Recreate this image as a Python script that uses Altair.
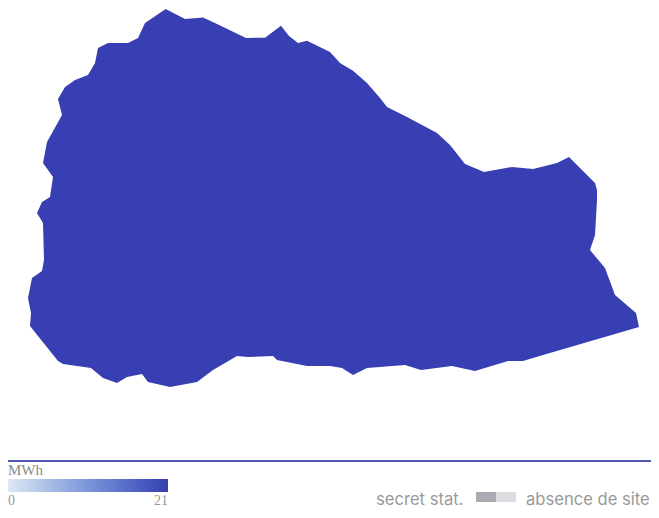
import altair as alt
import pandas as pd

outline_lon = [165.7,185,203,217,246,265,281,289,298,307,330,340,353,367,380,387,407,437,450,465,484,512,533,557,569,595,597,597,595,590,605,615,636,639,543,523,508,475,452,421,405,367,353,342,330,307,277,273,248,237,213,197,170,148,142,127,117,103,91,63,58,30,31,28,32,42,44,43,37,42,50,53,43,47,62,58,65,75,88,95,98,108,128,138,145]
outline_lat = [9,19,17.5,24,38,37.7,25.7,36,43,40.7,52,63,70.7,83,98,107,117,133,145,164,172,167,169,163,157,183,190,200,235,250,268,295,313,327,355,361,361,371,366,370,365,368,375,368,366,366,360,356,357,356,370,382,387,382,374,377,383,378,368,364,361,326,313,298,278,271,260,223,213,202,197,177,163,142,115,99,87,80,75,63,48,43,43,38,23]
region_value = [21]
scale_ends = [0, 21]
labels_left = ["secret stat."]
labels_right = ["absence de site"]
swatch_names = ["secret", "none"]

ring = [[x, y] for x, y in zip(outline_lon, outline_lat)]
ring.append(ring[0])
feature = {"type": "Feature", "properties": {"value": region_value[0]},
           "geometry": {"type": "Polygon", "coordinates": [ring]}}

region = alt.Chart(alt.Data(values=[feature])).mark_geoshape(stroke=None).encode(
    color=alt.Color("properties.value:Q",
        scale=alt.Scale(domain=scale_ends, range=["#e0e8f3", "#373fb2"]),
        legend=alt.Legend(
            orient="none", direction="horizontal", title="MWh",
            legendX=0, legendY=455, gradientLength=160, gradientThickness=13,
            values=scale_ends, titleFont="Liberation Serif", titleFontSize=15,
            titleFontWeight="normal", titleColor="#8a8a8a", titlePadding=1,
            labelFont="Liberation Serif", labelFontSize=14, labelColor="#999999",
            labelOffset=2, tickCount=2))
).project(type="identity", scale=1, translate=[-8, -8])

one = pd.DataFrame({"k": [0]})
rule = alt.Chart(one).mark_rule(color="#5058b4", strokeWidth=2).encode(
    x=alt.value(0), x2=alt.value(643), y=alt.value(453))

swatch_a = alt.Chart(pd.DataFrame({"k": swatch_names[:1]})).mark_rect(color="#aaaab2").encode(
    x=alt.value(468), x2=alt.value(488), y=alt.value(484), y2=alt.value(494))
swatch_b = alt.Chart(pd.DataFrame({"k": swatch_names[1:]})).mark_rect(color="#dcdce0").encode(
    x=alt.value(488), x2=alt.value(508), y=alt.value(484), y2=alt.value(494))

text_left = alt.Chart(pd.DataFrame({"t": labels_left})).mark_text(
    font="Inter", fontSize=16.6, color="#9a9a9a", align="left", baseline="alphabetic"
).encode(text="t:N", x=alt.value(368), y=alt.value(497))
text_right = alt.Chart(pd.DataFrame({"t": labels_right})).mark_text(
    font="Inter", fontSize=16.6, color="#9a9a9a", align="left", baseline="alphabetic"
).encode(text="t:N", x=alt.value(518), y=alt.value(497))

chart = alt.layer(region, rule, swatch_a, swatch_b, text_left, text_right).properties(
    width=643, height=502, padding=0,
    autosize=alt.AutoSizeParams(type="none"),
    background="white"
).configure_view(stroke=None)

chart.save("out.html", embed_options={"renderer": "svg", "actions": False})
